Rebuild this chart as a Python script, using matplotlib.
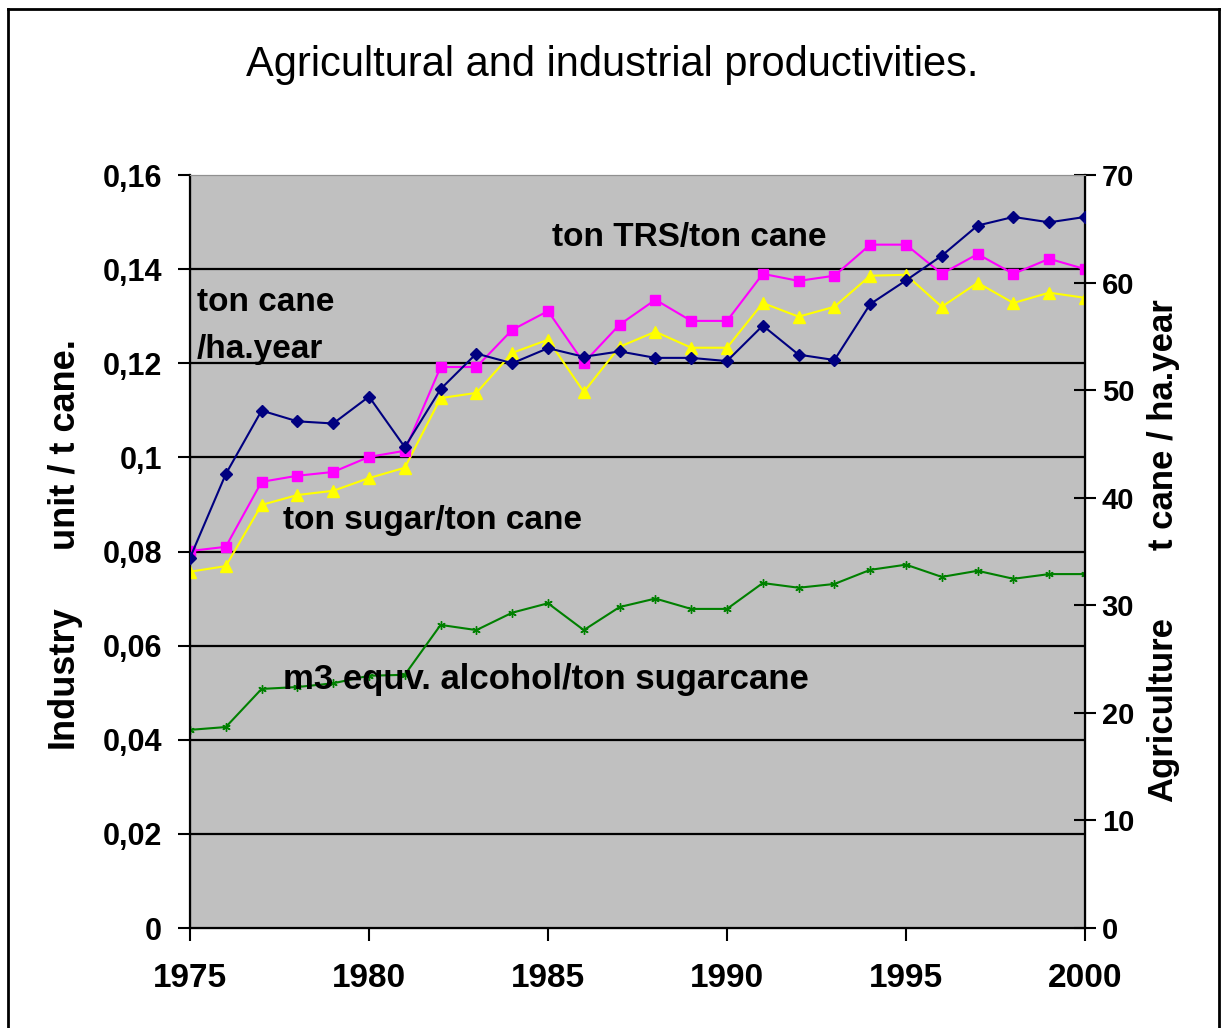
import numpy as np
import matplotlib.pyplot as plt
from matplotlib.lines import Line2D

plt.rcParams['font.family'] = ['Liberation Sans', 'DejaVu Sans']

years = list(range(1975, 2001))

# ton cane / ha.year (right axis)
cane_ha = [34.4, 42.2, 48.1, 47.1, 46.9, 49.4, 44.7, 50.1, 53.4, 52.5, 53.9, 53.1, 53.6,
           53.0, 53.0, 52.7, 56.0, 53.3, 52.8, 58.0, 60.2, 62.5, 65.3, 66.1, 65.6, 66.1]
# ton TRS / ton cane (left axis)
trs = [0.0801, 0.0810, 0.0948, 0.0961, 0.0969, 0.1001, 0.1014, 0.1192, 0.1192, 0.1271,
       0.1311, 0.1201, 0.1282, 0.1335, 0.1290, 0.1290, 0.1390, 0.1375, 0.1386, 0.1452,
       0.1452, 0.1390, 0.1432, 0.1390, 0.1422, 0.1400]
# ton sugar / ton cane (left axis)
sugar = [0.0757, 0.0769, 0.0899, 0.0920, 0.0929, 0.0956, 0.0978, 0.1126, 0.1137, 0.1222,
         0.1250, 0.1139, 0.1235, 0.1267, 0.1233, 0.1233, 0.1328, 0.1299, 0.1320, 0.1386,
         0.1388, 0.1320, 0.1371, 0.1328, 0.1350, 0.1339]
# m3 equiv. alcohol / ton sugarcane (left axis)
alcohol = [0.0421, 0.0427, 0.0508, 0.0512, 0.0520, 0.0536, 0.0538, 0.0644, 0.0633, 0.0670,
           0.0690, 0.0633, 0.0682, 0.0700, 0.0678, 0.0678, 0.0733, 0.0723, 0.0731, 0.0761,
           0.0772, 0.0746, 0.0759, 0.0742, 0.0752, 0.0752]

left_ticks = [0, 0.02, 0.04, 0.06, 0.08, 0.1, 0.12, 0.14, 0.16]
left_labels = ['0', '0,02', '0,04', '0,06', '0,08', '0,1', '0,12', '0,14', '0,16']
right_ticks = [0, 10, 20, 30, 40, 50, 60, 70]
x_ticks = [1975, 1980, 1985, 1990, 1995, 2000]

W, H = 1225, 1028
fig = plt.figure(figsize=(W/100, H/100), dpi=100)
ax = fig.add_axes([190/W, 1-928/H, 895/W, 753/H])
ax.set_facecolor('#c0c0c0')
ax2 = ax.twinx()

ax.set_xlim(1975, 2000)
ax.set_ylim(0, 0.16)
ax2.set_ylim(0, 70)

# gridlines
for v in left_ticks[1:-1]:
    ax.axhline(v, color='black', lw=1.6, zorder=1)

ax.plot(years, alcohol, color='#008000', lw=1.5, marker=(6, 2, 0), ms=6, mew=1, zorder=3)
ax.plot(years, sugar, color='#ffff00', lw=1.5, marker='^', ms=9, zorder=4)
ax.plot(years, trs, color='#ff00ff', lw=1.5, marker='s', ms=7, zorder=5)
ax2.plot(years, cane_ha, color='#000080', lw=1.5, marker='D', ms=6, zorder=6)

ax.set_yticks(left_ticks)
ax.set_yticklabels(left_labels)
ax.set_xticks(x_ticks)
ax2.set_yticks(right_ticks)

ax.tick_params(axis='y', direction='out', length=9, width=1.5, pad=11, labelsize=22)
ax.tick_params(axis='x', direction='out', length=9, width=1.5, pad=16, labelsize=24)
ax2.tick_params(axis='y', direction='inout', length=16, width=1.5, pad=4, labelsize=21)
for lab in ax.get_yticklabels() + ax.get_xticklabels() + ax2.get_yticklabels():
    lab.set_fontweight('bold')

for sp in ['left', 'bottom']:
    ax.spines[sp].set_linewidth(1.6)
ax.spines['top'].set_color('#909090')
ax2.spines['top'].set_color('#909090')
ax2.spines['right'].set_linewidth(1.6)

# axis titles (two parts each, as in the original)
fig.text(65/W, 1-445/H, 'unit / t cane.', rotation=90, ha='center', va='center',
         fontsize=26, fontweight='bold')
fig.text(63/W, 1-677/H, 'Industry', rotation=90, ha='center', va='center',
         fontsize=26, fontweight='bold')
fig.text(1163/W, 1-425/H, 't cane / ha.year', rotation=90, ha='center', va='center',
         fontsize=25, fontweight='bold')
fig.text(1163/W, 1-710/H, 'Agriculture', rotation=90, ha='center', va='center',
         fontsize=25, fontweight='bold')

fig.text(0.5, 1-65/H, 'Agricultural and industrial productivities.', ha='center', va='center',
         fontsize=30)

ax.text(1985.1, 0.1467, 'ton TRS/ton cane', fontsize=24, fontweight='bold', va='center')
ax.text(1975.2, 0.1330, 'ton cane', fontsize=24, fontweight='bold', va='center')
ax.text(1975.2, 0.1230, '/ha.year', fontsize=24, fontweight='bold', va='center')
ax.text(1977.6, 0.0865, 'ton sugar/ton cane', fontsize=24, fontweight='bold', va='center')
ax.text(1977.6, 0.0527, 'm3 equv. alcohol/ton sugarcane', fontsize=25, fontweight='bold',
        va='center', zorder=7)

# outer chart frame
fig.add_artist(Line2D([8/W, 8/W], [0, 1-9/H], color='black', lw=2))
fig.add_artist(Line2D([8/W, 1219/W], [1-9/H, 1-9/H], color='black', lw=2))
fig.add_artist(Line2D([1219/W, 1219/W], [0, 1-9/H], color='black', lw=2))

fig.savefig('out.png', dpi=100)
